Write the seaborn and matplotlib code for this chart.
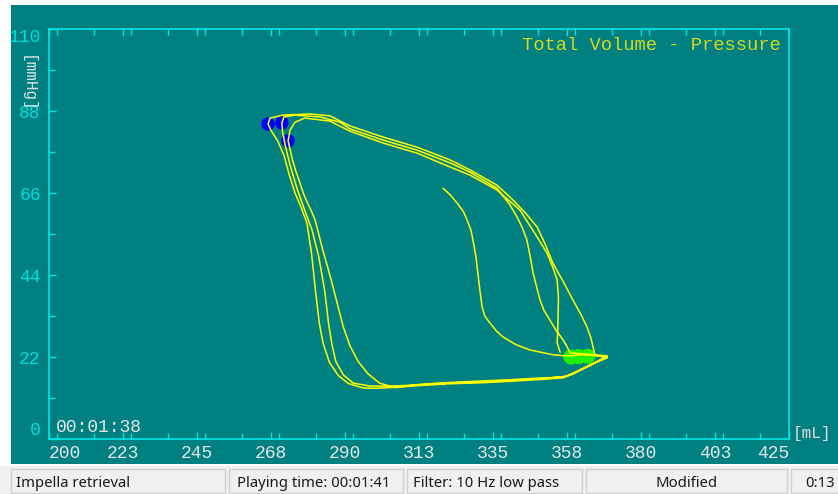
import numpy as np
import pandas as pd
import matplotlib
matplotlib.use("Agg")
import matplotlib.pyplot as plt
import seaborn as sns
from matplotlib.patches import Rectangle
from matplotlib.ticker import MultipleLocator
from matplotlib import font_manager

# ---------------- data ----------------
# initial partial trace
s0_vol = [319.8, 322.0, 324.1, 326.0, 327.1, 328.3, 328.9, 329.8, 330.4, 331.0, 331.7,
          332.5, 334.1, 336.0, 338.0, 342.0, 346.2, 350.0, 353.2, 356.0, 358.4]
s0_pres = [67.3, 65.5, 63.3, 61.0, 58.8, 56.0, 53.4, 49.0, 44.5, 40.0, 35.4,
           33.0, 31.1, 29.0, 27.4, 25.3, 23.9, 23.2, 22.6, 22.4, 22.3]

# cycle 1
c1_vol = [358.4, 362.0, 366.0, 369.5, 366.0, 362.0, 358.0, 356.3, 350.0, 342.3, 332.0, 321.0,
          312.0, 305.8, 299.0, 295.5, 291.0, 288.0, 285.3, 283.4, 282.2, 281.0, 279.8, 278.4,
          276.5, 274.8, 273.0, 271.5, 269.5, 267.5, 266.6, 267.2, 271.1, 279.4, 285.4, 291.5,
          301.6, 311.9, 321.9, 328.0, 336.2, 341.1, 345.0, 348.4, 351.0, 353.2, 356.5, 359.3,
          361.8, 363.6, 364.8, 365.4, 366.0]
c1_pres = [22.3, 22.6, 22.4, 22.0, 20.5, 18.8, 17.0, 16.4, 16.0, 15.6, 15.1, 14.8,
           14.3, 13.9, 13.6, 13.7, 14.9, 17.0, 20.5, 25.5, 31.0, 40.0, 50.0, 58.0,
           62.5, 66.0, 71.0, 76.0, 80.0, 82.8, 84.5, 86.1, 86.9, 87.2, 86.7, 84.0,
           81.0, 78.3, 74.9, 72.2, 68.1, 64.1, 60.5, 56.9, 52.0, 47.2, 42.0, 37.3,
           33.3, 30.0, 27.0, 24.7, 22.5]

# cycle 2
c2_vol = [366.0, 369.8, 365.0, 361.0, 357.0, 350.0, 342.0, 332.0, 322.0, 312.0, 304.0, 297.6,
          292.5, 289.5, 287.2, 286.0, 285.0, 283.8, 282.0, 280.0, 277.5, 275.3, 273.3, 271.9,
          271.0, 270.8, 271.4, 274.8, 282.4, 288.5, 291.5, 301.6, 311.9, 321.9, 328.0, 336.2,
          340.0, 342.3, 344.0, 345.3, 346.3, 347.2, 348.2, 349.3, 350.5, 352.3, 354.3, 356.3,
          357.5, 358.4]
c2_pres = [22.5, 21.8, 20.0, 18.3, 16.8, 16.2, 15.8, 15.3, 15.0, 14.5, 14.2, 14.2,
           15.0, 17.2, 20.8, 25.5, 31.0, 40.0, 49.0, 56.0, 62.0, 67.5, 73.5, 78.5,
           82.5, 84.8, 86.4, 86.9, 86.4, 85.0, 83.2, 80.2, 77.5, 74.1, 71.6, 67.3,
           63.0, 59.6, 56.5, 53.4, 49.0, 44.5, 41.0, 37.3, 34.5, 31.9, 29.0, 26.6,
           24.8, 23.1]

# cycle 3
c3_vol = [358.4, 363.0, 369.8, 364.0, 359.0, 356.0, 348.0, 340.0, 330.0, 320.0, 312.0, 305.2,
          300.5, 297.0, 294.0, 291.5, 289.5, 287.6, 286.0, 284.6, 283.3, 282.0, 280.9, 279.6,
          278.5, 277.3, 276.3, 275.0, 274.0, 273.2, 272.7, 273.3, 274.8, 277.8, 285.4, 291.5,
          301.6, 311.9, 321.9, 328.0, 336.2, 343.2, 347.5, 351.4, 353.2, 354.5, 354.9, 354.8,
          354.7, 354.5, 355.4]
c3_pres = [23.1, 22.8, 22.3, 19.5, 17.3, 16.6, 16.3, 15.9, 15.5, 15.1, 14.6, 13.8,
           15.0, 17.5, 20.8, 25.0, 30.0, 36.5, 42.0, 46.5, 50.5, 55.0, 58.8, 61.5,
           63.5, 66.0, 68.7, 72.0, 75.0, 78.0, 80.0, 82.9, 85.0, 86.1, 85.3, 82.6,
           79.4, 76.7, 73.0, 70.8, 66.8, 61.4, 55.5, 49.9, 46.0, 42.7, 38.0, 33.8,
           29.5, 25.8, 23.3]

# end-systolic (blue) and end-diastolic (green) markers
es_vol = [266.6, 270.8, 272.7]
es_pres = [84.5, 84.8, 80.0]
ed_vol = [358.7, 361.0, 363.8]
ed_pres = [22.0, 22.1, 22.2]

x_ticks = [200, 222.5, 245, 267.5, 290, 312.5, 335, 357.5, 380, 402.5, 425]
x_labels = ["200", "223", "245", "268", "290", "313", "335", "358", "380", "403", "425"]
y_ticks = [0, 22, 44, 66, 88, 110]
y_labels = ["0", "22", "44", "66", "88", "110"]

title = "Total Volume - Pressure"
status_texts = ["Impella retrieval", "Playing time: 00:01:41", "Filter: 10 Hz low pass", "Modified", "0:13"]

# ---------------- fonts ----------------
def pick(cands):
    out = []
    for c in cands:
        try:
            font_manager.findfont(font_manager.FontProperties(family=c), fallback_to_default=False)
            out.append(c)
        except Exception:
            pass
    return out

# ---------------- figure ----------------
sns.set_theme(style="white")
MONO = pick(["Liberation Mono", "Courier New", "Nimbus Mono PS", "FreeMono", "Courier"]) + ["DejaVu Sans Mono"]
plt.rcParams["font.family"] = MONO

W, H = 838, 494
TEAL = "#008080"
CYAN = "#00e6e6"

def fx(px):
    return px / W

def fy(py):
    return 1 - py / H

fig = plt.figure(figsize=(W / 100, H / 100), dpi=100)
fig.patch.set_facecolor("white")
fig.add_artist(Rectangle((fx(11), fy(464)), fx(W) - fx(11), fy(5) - fy(464),
                         transform=fig.transFigure, facecolor=TEAL, edgecolor="none", zorder=0))

# status bar
fig.add_artist(Rectangle((0, 0), 1, fy(466), transform=fig.transFigure,
                         facecolor="#f0f0f0", edgecolor="none", zorder=0))
panels = [(11, 225), (229, 403), (407, 582), (586, 787), (791, 840)]
for (a, b) in panels:
    fig.add_artist(Rectangle((fx(a), fy(493)), fx(b) - fx(a), fy(469) - fy(493),
                             transform=fig.transFigure, facecolor="#f0f0f0",
                             edgecolor="#d0d0d0", lw=1.0, zorder=1))
SANS = ["Noto Sans", "DejaVu Sans"]
stat_pos = [(16, "left"), (237, "left"), (413, "left"), (686.5, "center"), (805, "left")]
for txt, (px, ha) in zip(status_texts, stat_pos):
    fig.text(fx(px), fy(483), txt, ha=ha, va="center", fontsize=10.7,
             family=SANS, color="#1a1a1a")

ax = fig.add_axes([fx(49), fy(439), fx(789) - fx(49), fy(29) - fy(439)])
ax.set_facecolor(TEAL)

# line trace
vol = s0_vol + c1_vol[1:] + c2_vol[1:] + c3_vol[1:]
pres = s0_pres + c1_pres[1:] + c2_pres[1:] + c3_pres[1:]
df = pd.DataFrame({"vol": vol, "pres": pres})

sns.scatterplot(x=es_vol, y=es_pres, s=95, color="#0000ff", edgecolor="none", ax=ax, zorder=2)
sns.scatterplot(x=ed_vol, y=ed_pres, s=120, color="#22ee00", edgecolor="none", ax=ax, zorder=2)
sns.lineplot(data=df, x="vol", y="pres", sort=False, estimator=None, color="#ffff00",
             lw=1.1, ax=ax, zorder=3)

ax.set_xlim(200, 425)
ax.set_ylim(0, 110)
ax.set_xticks(x_ticks)
ax.set_xticklabels(x_labels)
ax.set_yticks(y_ticks)
ax.set_yticklabels(y_labels)
ax.xaxis.set_minor_locator(MultipleLocator(11.25))
ax.yaxis.set_minor_locator(MultipleLocator(11))
ax.tick_params(which="both", direction="in", color=CYAN, width=1, top=True, right=False,
               bottom=True, left=True)
ax.tick_params(which="major", length=5)
ax.tick_params(which="minor", length=4)
ax.tick_params(axis="x", which="major", labelsize=13, labelcolor="#e6e6e6", pad=4)
ax.tick_params(axis="y", which="major", labelsize=13, labelcolor="#00dede", pad=6)
ax.set_xlabel("")
ax.set_ylabel("")
for lab in ax.get_xticklabels():
    lab.set_family(MONO)
for lab in ax.get_yticklabels():
    lab.set_family(MONO)
xl = ax.get_xticklabels()
xl[0].set_ha("left")
xl[-1].set_ha("right")
yl = ax.get_yticklabels()
yl[0].set_va("bottom")
yl[-1].set_va("top")
for sp in ax.spines.values():
    sp.set_color(CYAN)
    sp.set_linewidth(1.2)
    sp.set_visible(True)

fig.text(fx(781), fy(45), title, ha="right", va="center", fontsize=13.5, color="#d8d81c",
         family=MONO)
fig.text(fx(56), fy(428), "00:01:38", ha="left", va="center", fontsize=13, color="#e6e6e6",
         family=MONO)
fig.text(fx(793), fy(433), "[mL]", ha="left", va="center", fontsize=11.5, color="#dcdcdc",
         family=MONO)
fig.text(fx(27), fy(84), "[mmHg]", ha="center", va="center", fontsize=11.5, rotation=270,
         color="#d8e6e6", family=MONO)

fig.savefig("out.png", dpi=100, facecolor=fig.get_facecolor())
